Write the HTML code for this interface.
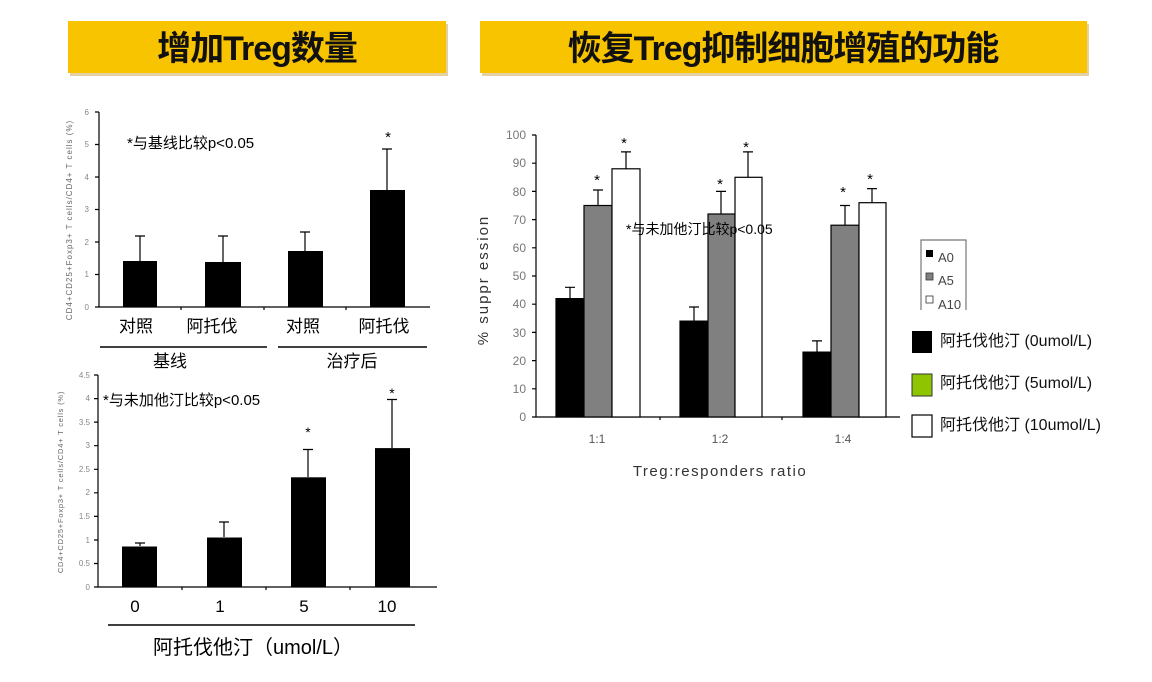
<!DOCTYPE html>
<html><head><meta charset="utf-8"><style>
body{margin:0;background:#fff;}
svg{display:block;}
text{font-family:"Liberation Sans","Noto Sans CJK SC",sans-serif;}
</style></head><body>
<svg width="1152" height="682" xmlns="http://www.w3.org/2000/svg">
<rect width="1152" height="682" fill="#fff"/>
<!-- banners -->
<rect x="70" y="24" width="378" height="52" fill="#c9a24a" opacity="0.5"/>
<rect x="68" y="21" width="378" height="52" fill="#f8c400"/>
<rect x="482" y="24" width="607" height="52" fill="#c9a24a" opacity="0.5"/>
<rect x="480" y="21" width="607" height="52" fill="#f8c400"/>
<text x="257" y="60" font-size="34" font-weight="bold" text-anchor="middle" fill="#111" letter-spacing="-1">增加Treg数量</text>
<text x="783" y="60" font-size="34" font-weight="bold" text-anchor="middle" fill="#111" letter-spacing="-1">恢复Treg抑制细胞增殖的功能</text>

<!-- top-left chart -->
<g stroke="#000" stroke-width="1.2" fill="none">
<path d="M99 112 V307 H430"/>
<path d="M95 112H99M95 144.5H99M95 177H99M95 209.5H99M95 242H99M95 274.5H99M95 307H99"/>
<path d="M181 307v3M264 307v3M346 307v3"/>
</g>
<g font-size="8" fill="#888" text-anchor="end">
<text x="89" y="115">6</text><text x="89" y="147">5</text><text x="89" y="180">4</text><text x="89" y="212">3</text><text x="89" y="245">2</text><text x="89" y="277">1</text><text x="89" y="310">0</text>
</g>
<text transform="translate(72,220) rotate(-90)" font-size="8" fill="#666" text-anchor="middle" letter-spacing="1">CD4+CD25+Foxp3+ T cells/CD4+ T cells (%)</text>
<g fill="#000">
<rect x="123" y="261" width="34" height="46"/>
<rect x="205" y="262" width="36" height="45"/>
<rect x="288" y="251" width="35" height="56"/>
<rect x="370" y="190" width="35" height="117"/>
</g>
<g stroke="#000" stroke-width="1.2">
<path d="M140 261V236M135 236H145"/>
<path d="M223 262V236M218 236H228"/>
<path d="M305 251V232M300 232H310"/>
<path d="M387 190V149M382 149H392"/>
</g>
<text x="388" y="142" font-size="15" text-anchor="middle">*</text>
<text x="127" y="148" font-size="15">*与基线比较p&lt;0.05</text>
<g font-size="17" text-anchor="middle">
<text x="136" y="332">对照</text><text x="212" y="332">阿托伐</text><text x="303" y="332">对照</text><text x="384" y="332">阿托伐</text>
<text x="170" y="367">基线</text><text x="352" y="367">治疗后</text>
</g>
<path d="M100 347H267M278 347H427" stroke="#000" stroke-width="1.5"/>

<!-- bottom-left chart -->
<g stroke="#000" stroke-width="1.2" fill="none">
<path d="M98 375V587H437"/>
<path d="M94 375H98M94 398.6H98M94 422.1H98M94 445.7H98M94 469.3H98M94 492.8H98M94 516.4H98M94 540H98M94 563.5H98M94 587H98"/>
<path d="M182 587v3M266 587v3M350 587v3"/>
</g>
<g font-size="8" fill="#888" text-anchor="end">
<text x="90" y="378">4.5</text><text x="90" y="401">4</text><text x="90" y="425">3.5</text><text x="90" y="448">3</text><text x="90" y="472">2.5</text><text x="90" y="495">2</text><text x="90" y="519">1.5</text><text x="90" y="543">1</text><text x="90" y="566">0.5</text><text x="90" y="590">0</text>
</g>
<text transform="translate(63,482) rotate(-90)" font-size="7.5" fill="#666" text-anchor="middle" letter-spacing="0.8">CD4+CD25+Foxp3+ T cells/CD4+ T cells (%)</text>
<g fill="#000">
<rect x="122" y="546.5" width="35" height="40.5"/>
<rect x="207" y="537.5" width="35" height="49.5"/>
<rect x="291" y="477.3" width="35" height="109.7"/>
<rect x="375" y="448.1" width="35" height="138.9"/>
</g>
<g stroke="#000" stroke-width="1.2">
<path d="M140 546V543M135 543H145"/>
<path d="M224 537V522M219 522H229"/>
<path d="M308 477V449.5M303 449.5H313"/>
<path d="M392 448V399.5M387 399.5H397"/>
</g>
<text x="308" y="437" font-size="14" text-anchor="middle">*</text>
<text x="392" y="398" font-size="14" text-anchor="middle">*</text>
<text x="103" y="405" font-size="15">*与未加他汀比较p&lt;0.05</text>
<g font-size="17" text-anchor="middle">
<text x="135" y="612">0</text><text x="220" y="612">1</text><text x="304" y="612">5</text><text x="387" y="612">10</text>
</g>
<path d="M108 625H415" stroke="#000" stroke-width="1.5"/>
<text x="153" y="654" font-size="20">阿托伐他汀（umol/L）</text>

<!-- right chart -->
<g stroke="#000" stroke-width="1.2" fill="none">
<path d="M536 135V417H900"/>
<path d="M532 135H536M532 163.2H536M532 191.4H536M532 219.6H536M532 247.8H536M532 276H536M532 304.2H536M532 332.4H536M532 360.6H536M532 388.8H536M532 417H536"/>
<path d="M660 417v3M782 417v3"/>
</g>
<g font-size="12" fill="#777" text-anchor="end">
<text x="526" y="139">100</text><text x="526" y="167">90</text><text x="526" y="196">80</text><text x="526" y="224">70</text><text x="526" y="252">60</text><text x="526" y="280">50</text><text x="526" y="308">40</text><text x="526" y="337">30</text><text x="526" y="365">20</text><text x="526" y="393">10</text><text x="526" y="421">0</text>
</g>
<text transform="translate(488,280) rotate(-90)" font-size="15" fill="#333" text-anchor="middle" letter-spacing="2">% suppr ession</text>
<g stroke="#000" stroke-width="1.2">
<rect x="556" y="298.6" width="28" height="118.4" fill="#000"/>
<rect x="584" y="205.5" width="28" height="211.5" fill="#808080"/>
<rect x="612" y="168.8" width="28" height="248.2" fill="#fff"/>
<rect x="680" y="321.1" width="28" height="95.9" fill="#000"/>
<rect x="708" y="214" width="27" height="203" fill="#808080"/>
<rect x="735" y="177.3" width="27" height="239.7" fill="#fff"/>
<rect x="803" y="352.1" width="28" height="64.9" fill="#000"/>
<rect x="831" y="225.2" width="28" height="191.8" fill="#808080"/>
<rect x="859" y="202.7" width="27" height="214.3" fill="#fff"/>
<path d="M570 298.6V287.3M565 287.3H575M598 205.5V190M593 190H603M626 168.8V151.9M621 151.9H631"/>
<path d="M694 321.1V307M689 307H699M721 214V191.4M716 191.4H726M748 177.3V151.9M743 151.9H753"/>
<path d="M817 352.1V340.9M812 340.9H822M845 225.2V205.5M840 205.5H850M872 202.7V188.6M867 188.6H877"/>
</g>
<g font-size="15" text-anchor="middle">
<text x="597" y="185">*</text><text x="624" y="148">*</text>
<text x="720" y="189">*</text><text x="746" y="152">*</text>
<text x="843" y="197">*</text><text x="870" y="184">*</text>
</g>
<text x="626" y="234" font-size="14">*与未加他汀比较p&lt;0.05</text>
<g font-size="12" fill="#555" text-anchor="middle">
<text x="597" y="443">1:1</text><text x="720" y="443">1:2</text><text x="843" y="443">1:4</text>
</g>
<text x="720" y="476" font-size="15" fill="#333" text-anchor="middle" letter-spacing="1.5">Treg:responders ratio</text>

<!-- small legend -->
<path d="M921 310V240H966V310" stroke="#777" stroke-width="1.2" fill="none"/>
<rect x="926" y="250" width="7" height="7" fill="#000"/>
<rect x="926" y="273" width="7" height="7" fill="#808080" stroke="#333" stroke-width="0.8"/>
<rect x="926" y="296" width="7" height="7" fill="#fff" stroke="#333" stroke-width="0.8"/>
<g font-size="13" fill="#444"><text x="938" y="262">A0</text><text x="938" y="285">A5</text><text x="938" y="309">A10</text></g>
<!-- big legend -->
<rect x="912" y="331" width="20" height="22" fill="#000"/>
<rect x="912" y="374" width="20" height="22" fill="#8fc400" stroke="#333" stroke-width="1"/>
<rect x="912" y="415" width="20" height="22" fill="#fff" stroke="#000" stroke-width="1.2"/>
<g font-size="16" fill="#111">
<text x="940" y="346">阿托伐他汀 (0umol/L)</text>
<text x="940" y="388">阿托伐他汀 (5umol/L)</text>
<text x="940" y="430">阿托伐他汀 (10umol/L)</text>
</g>
</svg>
</body></html>
